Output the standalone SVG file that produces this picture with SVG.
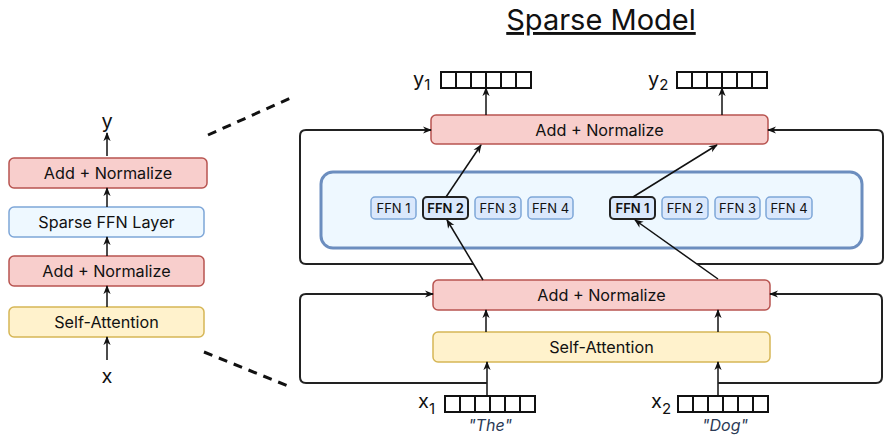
<svg xmlns="http://www.w3.org/2000/svg" width="894" height="446" viewBox="0 0 894 446">
  <style>
    text { font-family: Inter, "Noto Sans", "Liberation Sans", sans-serif; fill: #111; }
    .lbl { font-size: 16.2px; text-anchor: middle; dominant-baseline: central; }
    .ffn { font-size: 13px; text-anchor: middle; dominant-baseline: central; }
    .red { fill: #f8cecc; stroke: #b85450; stroke-width: 1.5; }
    .yel { fill: #fff2cc; stroke: #d6b656; stroke-width: 1.5; }
    .pale { fill: #eef8ff; stroke: #7ea6d8; stroke-width: 1.5; }
    .cont { fill: #eef8ff; stroke: #6c8ebf; stroke-width: 3; }
    .exp { fill: #dae8fc; stroke: #7ea6d8; stroke-width: 1.5; }
    .sel { fill: #dae8fc; stroke: #222; stroke-width: 2; }
    .arr { fill: none; stroke: #111; stroke-width: 1.5; marker-end: url(#head); }
    .skip { fill: none; stroke: #222; stroke-width: 2; marker-end: url(#head); }
    .vec { fill: #fff; stroke: #111; stroke-width: 2; }
    .dash { fill: none; stroke: #111; stroke-width: 3; stroke-dasharray: 9 7; }
    .var { font-size: 20px; }
    .sub { font-size: 15px; }
    .word { font-size: 16px; font-style: italic; text-anchor: middle; fill: #2b3a55; }
  </style>
  <defs>
    <marker id="head" viewBox="0 0 10 10" refX="9" refY="5" markerWidth="9" markerHeight="9" markerUnits="userSpaceOnUse" orient="auto">
      <path d="M0,1 L10,5 L0,9 L3,5 z" fill="#111"/>
    </marker>
    <!-- six-cell embedding vector -->
    <g id="vector">
      <rect class="vec" x="0" y="0" width="90" height="16"/>
      <path d="M15,0 V16 M30,0 V16 M45,0 V16 M60,0 V16 M75,0 V16" stroke="#111" stroke-width="2"/>
    </g>
  </defs>

  <!-- title -->
  <text x="601" y="30" font-size="29" text-anchor="middle" text-decoration="underline">Sparse Model</text>

  <!-- zoom guide lines -->
  <g id="guides">
    <line class="dash" x1="208" y1="135" x2="293" y2="97"/>
    <line class="dash" x1="204" y1="352" x2="293" y2="388"/>
  </g>

  <!-- left: compact layer stack -->
  <g id="stack-add-norm-top">
    <rect class="red" x="9" y="158" width="198" height="30" rx="5"/>
    <text class="lbl" x="108" y="173">Add + Normalize</text>
  </g>
  <g id="stack-sparse-ffn">
    <rect class="pale" x="9" y="207" width="195" height="30" rx="5"/>
    <text class="lbl" x="106.5" y="222">Sparse FFN Layer</text>
  </g>
  <g id="stack-add-norm-bottom">
    <rect class="red" x="9" y="256" width="195" height="30" rx="5"/>
    <text class="lbl" x="106.5" y="271">Add + Normalize</text>
  </g>
  <g id="stack-self-attention">
    <rect class="yel" x="9" y="307" width="195" height="30" rx="5"/>
    <text class="lbl" x="106.5" y="322">Self-Attention</text>
  </g>
  <g id="stack-io">
    <text class="var" x="107" y="128" text-anchor="middle">y</text>
    <text class="var" x="107" y="383" text-anchor="middle">x</text>
  </g>

  <!-- right: expanded sparse model -->
  <g id="add-norm-upper">
    <rect class="red" x="431" y="115" width="337" height="29" rx="5"/>
    <text class="lbl" x="599.5" y="130">Add + Normalize</text>
  </g>
  <g id="expert-layer">
    <rect class="cont" x="321" y="172" width="541" height="76" rx="12"/>
  </g>
  <g id="tok1-ffn1"><rect class="exp" x="371" y="197" width="45" height="22" rx="4"/><text class="ffn" x="393.5" y="208">FFN 1</text></g>
  <g id="tok1-ffn2"><rect class="sel" x="423" y="197" width="45" height="22" rx="4"/><text class="ffn" x="445.5" y="208" font-weight="600">FFN 2</text></g>
  <g id="tok1-ffn3"><rect class="exp" x="475" y="197" width="46" height="22" rx="4"/><text class="ffn" x="498" y="208">FFN 3</text></g>
  <g id="tok1-ffn4"><rect class="exp" x="528" y="197" width="45" height="22" rx="4"/><text class="ffn" x="550.5" y="208">FFN 4</text></g>
  <g id="tok2-ffn1"><rect class="sel" x="610" y="197" width="45" height="22" rx="4"/><text class="ffn" x="632.5" y="208" font-weight="600">FFN 1</text></g>
  <g id="tok2-ffn2"><rect class="exp" x="662" y="197" width="46" height="22" rx="4"/><text class="ffn" x="685" y="208">FFN 2</text></g>
  <g id="tok2-ffn3"><rect class="exp" x="715" y="197" width="45" height="22" rx="4"/><text class="ffn" x="737.5" y="208">FFN 3</text></g>
  <g id="tok2-ffn4"><rect class="exp" x="766" y="197" width="46" height="22" rx="4"/><text class="ffn" x="789" y="208">FFN 4</text></g>
  <g id="add-norm-lower">
    <rect class="red" x="433" y="280" width="337" height="30" rx="5"/>
    <text class="lbl" x="601.5" y="295">Add + Normalize</text>
  </g>
  <g id="self-attention">
    <rect class="yel" x="433" y="332" width="337" height="30" rx="5"/>
    <text class="lbl" x="601.5" y="347">Self-Attention</text>
  </g>

  <!-- token vectors -->
  <g id="y1">
    <use href="#vector" x="441" y="72"/>
    <text class="var" x="413" y="86">y<tspan class="sub" dy="4">1</tspan></text>
  </g>
  <g id="y2">
    <use href="#vector" x="677" y="72"/>
    <text class="var" x="648" y="86">y<tspan class="sub" dy="4">2</tspan></text>
  </g>
  <g id="x1">
    <use href="#vector" x="445" y="396"/>
    <text class="var" x="418" y="408">x<tspan class="sub" dy="6">1</tspan></text>
    <text class="word" x="490" y="431">"The"</text>
  </g>
  <g id="x2">
    <use href="#vector" x="678" y="396"/>
    <text class="var" x="651" y="408">x<tspan class="sub" dy="6">2</tspan></text>
    <text class="word" x="725" y="431">"Dog"</text>
  </g>

  <!-- connectors -->
  <g id="connectors">
    <!-- left stack -->
    <line class="arr" x1="107" y1="156" x2="107" y2="133"/>
    <line class="arr" x1="107" y1="207" x2="107" y2="188"/>
    <line class="arr" x1="107" y1="256" x2="107" y2="237"/>
    <line class="arr" x1="107" y1="307" x2="107" y2="286"/>
    <line class="arr" x1="107" y1="360" x2="107" y2="337"/>

    <!-- token paths -->
    <line class="arr" x1="487" y1="396" x2="487" y2="362"/>
    <line class="arr" x1="718" y1="396" x2="718" y2="362"/>
    <line class="arr" x1="486" y1="332" x2="486" y2="310"/>
    <line class="arr" x1="718" y1="332" x2="718" y2="310"/>
    <line class="arr" x1="483" y1="280" x2="447" y2="220"/>
    <line class="arr" x1="718" y1="279" x2="635" y2="220"/>
    <line class="arr" x1="446" y1="197" x2="481" y2="145"/>
    <line class="arr" x1="633" y1="197" x2="717" y2="145"/>
    <line class="arr" x1="486" y1="115" x2="486" y2="88"/>
    <line class="arr" x1="722" y1="115" x2="722" y2="88"/>

    <!-- residual connections -->
    <path class="skip" d="M487,383 H306 Q300,383 300,377 V300 Q300,294 306,294 H433"/>
    <path class="skip" d="M718,383 H876 Q882,383 882,377 V300 Q882,294 876,294 H770"/>
    <path class="skip" d="M473,264 H306 Q300,264 300,258 V136 Q300,130 306,130 H431"/>
    <path class="skip" d="M697,264 H877 Q883,264 883,258 V136 Q883,130 877,130 H768"/>
  </g>
</svg>
